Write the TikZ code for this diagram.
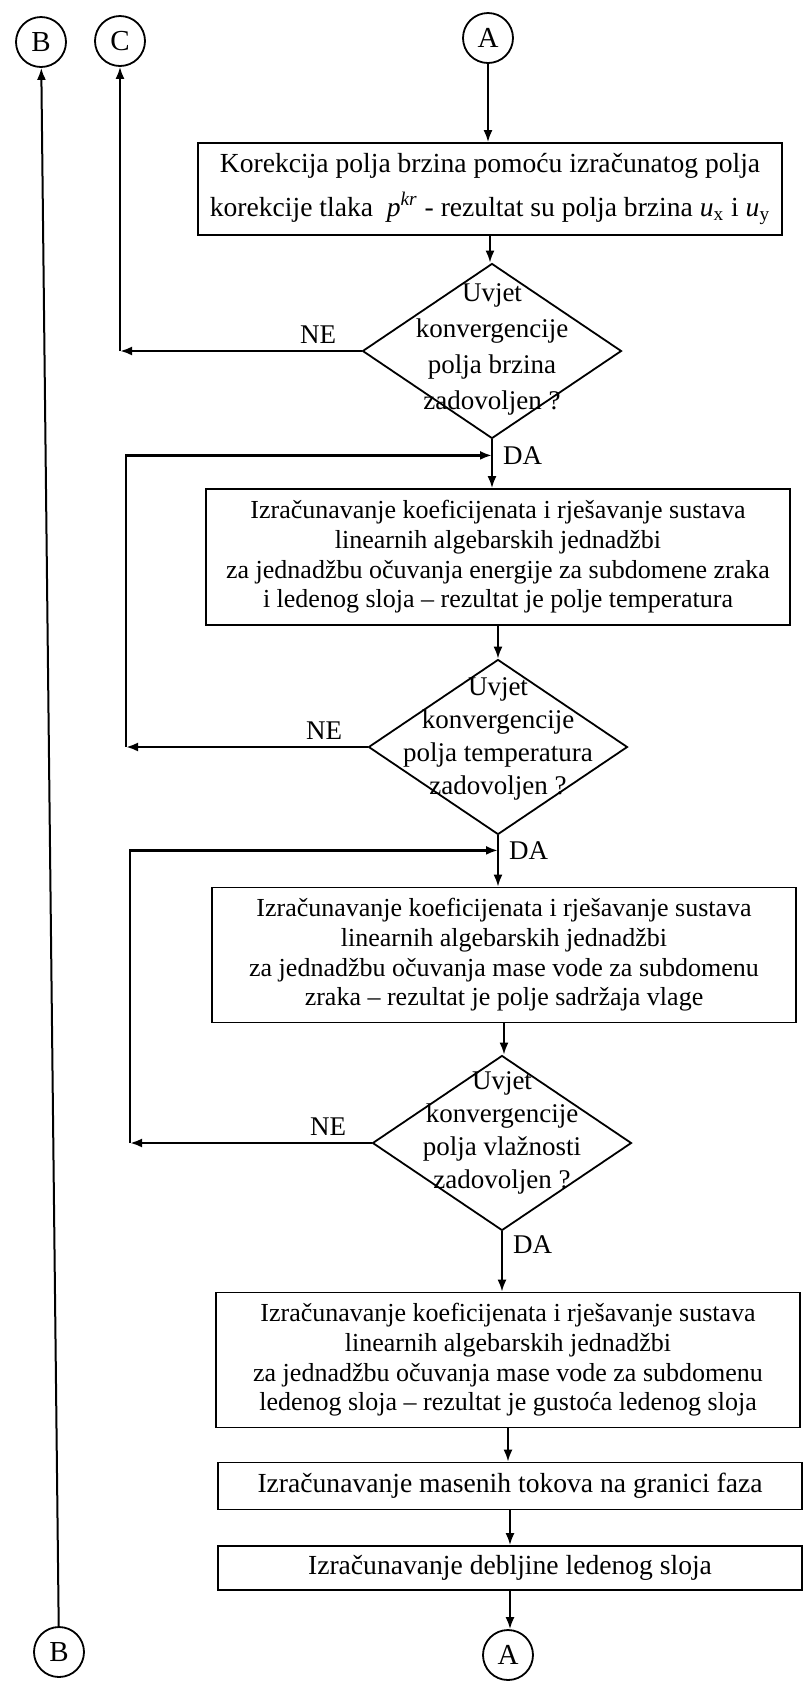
\documentclass[tikz,border=0pt]{standalone}
\usepackage{fontspec}
\setmainfont{Liberation Serif}
\usepackage{tikz}
\usetikzlibrary{arrows.meta, positioning, shapes.geometric, calc}

\begin{document}
\begin{tikzpicture}[x=0.5pt, y=-0.5pt,
    every node/.style={font=\fontsize{13.5}{15}\selectfont},
    box/.style={draw, line width=0.9pt, align=center, minimum width=292pt, inner xsep=2pt, inner ysep=0pt,
        font=\fontsize{13}{14.8}\selectfont},
    bigbox/.style={box, font=\fontsize{13.8}{15}\selectfont},
    cond/.style={draw, diamond, line width=0.9pt, minimum width=129.5pt, minimum height=87.5pt, inner sep=0pt},
    condtext/.style={align=center, font=\fontsize{13.5}{16.5}\selectfont},
    conn/.style={circle, draw, line width=0.9pt, minimum size=25pt, inner sep=0pt, font=\fontsize{14.5}{15}\selectfont},
    flow/.style={-{Latex[length=6pt,width=4.5pt]}, line width=1pt},
    loop/.style={flow, line width=1.3pt}]
    \useasboundingbox (0,0) rectangle (805,1683);
    \node[conn] (Atop) at (488,38) {A};
    \node[conn] (Btop) at (41,42) {B};
    \node[conn] (Ctop) at (120,41) {C};
    \node[bigbox, minimum height=46pt] (korekcija) at (490,189) {Korekcija polja brzina pomoću izračunatog polja\\[7pt]
        korekcije tlaka \ \textit{p}\textsuperscript{\textit{kr}} - rezultat su polja brzina \textit{u}\textsubscript{x} i \textit{u}\textsubscript{y}};
    \node[cond] (brzine) at (492,351) {};
    \node[condtext, font=\fontsize{13.5}{18}\selectfont] (brzineTxt) at (492,349) {Uvjet\\konvergencije\\polja brzina\\zadovoljen ?};
    \node[box, minimum height=68pt] (energija) at (498,557) {Izračunavanje koeficijenata i rješavanje sustava\\
        linearnih algebarskih jednadžbi\\za jednadžbu očuvanja energije za subdomene zraka\\
        i ledenog sloja -- rezultat je polje temperatura};
    \node[cond] (temp) at (498,747) {};
    \node[condtext] (tempTxt) at (498,739) {Uvjet\\konvergencije\\polja temperatura\\zadovoljen ?};
    \node[box, minimum height=67.5pt] (vlaga) at (504,955) {Izračunavanje koeficijenata i rješavanje sustava\\
        linearnih algebarskih jednadžbi\\za jednadžbu očuvanja mase vode za subdomenu\\
        zraka -- rezultat je polje sadržaja vlage};
    \node[cond] (vlaz) at (502,1143) {};
    \node[condtext] (vlazTxt) at (502,1133) {Uvjet\\konvergencije\\polja vlažnosti\\zadovoljen ?};
    \node[box, minimum height=67.5pt] (gustoca) at (508,1360) {Izračunavanje koeficijenata i rješavanje sustava\\
        linearnih algebarskih jednadžbi\\za jednadžbu očuvanja mase vode za subdomenu\\
        ledenog sloja -- rezultat je gustoća ledenog sloja};
    \node[bigbox, minimum height=23.5pt] (tokovi) at (510,1486) {Izračunavanje masenih tokova na granici faza};
    \node[bigbox, minimum height=22pt] (debljina) at (510,1568) {Izračunavanje debljine ledenog sloja};
    \node[conn] (Abot) at (508,1655) {A};
    \node[conn] (Bbot) at (59,1652) {B};
    \coordinate (da1) at ($(brzine.south)+(0,16)$);
    \coordinate (da2) at ($(temp.south)+(0,15)$);
    \coordinate (ne1) at (brzine.west -| Ctop);
    \coordinate (ne2) at (126,747);
    \coordinate (ne3) at (130,1143);
    \draw[flow] (Atop) -- (Atop |- korekcija.north);
    \draw[flow] (korekcija.south) -- (korekcija.south |- brzine.north);
    \draw[flow] (brzine.south) -- (brzine.south |- energija.north);
    \draw[flow] (energija.south) -- (energija.south |- temp.north);
    \draw[flow] (temp.south) -- (temp.south |- vlaga.north);
    \draw[flow] (vlaga.south) -- (vlaga.south |- vlaz.north);
    \draw[flow] (vlaz.south) -- (vlaz.south |- gustoca.north);
    \draw[flow] (gustoca.south) -- (gustoca.south |- tokovi.north);
    \draw[flow] (tokovi.south) -- (tokovi.south |- debljina.north);
    \draw[flow] (debljina.south) -- (debljina.south |- Abot.north);
    \node[anchor=west, xshift=2pt] (da1Lbl) at (da1) {DA};
    \node[anchor=west, xshift=2pt] (da2Lbl) at (da2) {DA};
    \node[anchor=west, xshift=2pt] (da3Lbl) at ($(vlaz.south)+(0,13)$) {DA};
    \draw[loop] (brzine.west) -- node[above, pos=0.18] (ne1Lbl) {NE} (ne1);
    \draw[flow] (ne1) -- (Ctop);
    \draw[loop] (temp.west) -- node[above, pos=0.18] (ne2Lbl) {NE} (ne2);
    \draw[loop] (ne2) |- (da1);
    \draw[loop] (vlaz.west) -- node[above, pos=0.18] (ne3Lbl) {NE} (ne3);
    \draw[loop] (ne3) |- (da2);
    \draw[flow] (Bbot) -- (Btop);
\end{tikzpicture}
\end{document}
